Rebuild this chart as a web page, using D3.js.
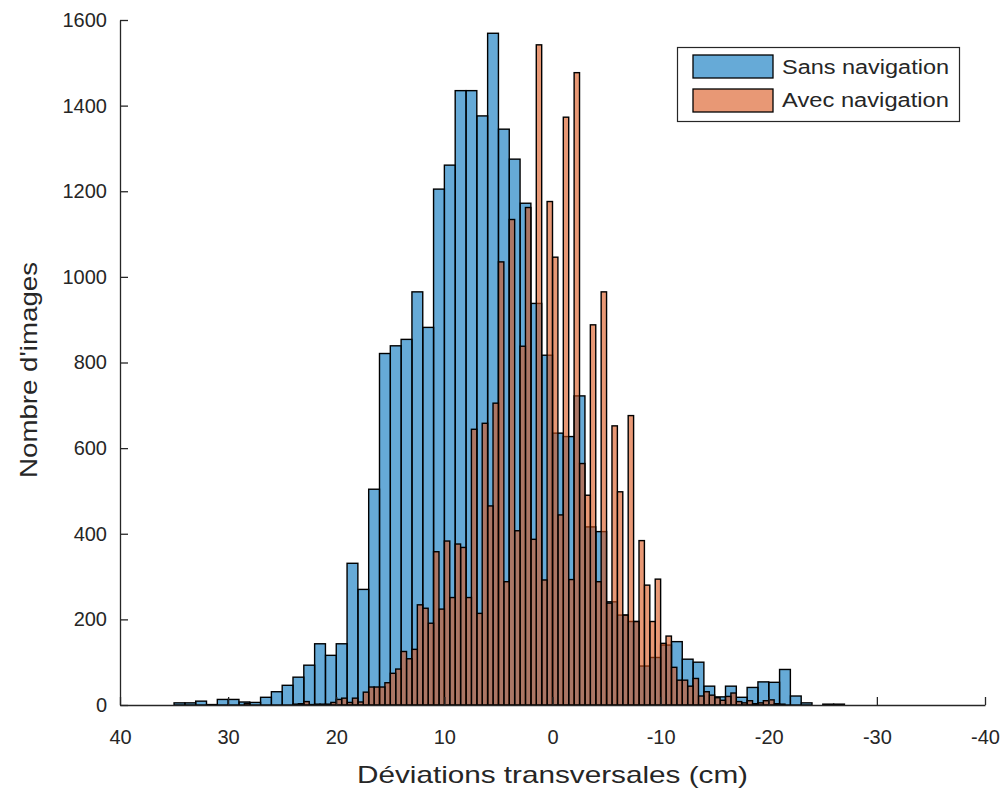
<!DOCTYPE html>
<html>
<head>
<meta charset="utf-8">
<script src="https://cdn.jsdelivr.net/npm/d3@7"></script>
<style>
  body { margin: 0; background: #fff; }
  text { font-family: "Liberation Sans", Arial, Helvetica, sans-serif; }
</style>
</head>
<body>
<div id="chart"></div>
<script>
// Data
// "Sans navigation": 1 cm bins, first bin starts at -27 cm
var sansStart = -27;
var sansWidth = 1;
var sansCounts = [2, 2, 0, 5, 21, 83, 53, 54, 41, 18, 44, 19, 44, 100, 107, 148, 140, 111, 91, 195,
    210, 241, 405, 416, 722, 627, 635, 817, 938, 1172, 1275, 1345, 1569, 1376, 1435, 1435, 1261, 1205,
    882, 965, 854, 839, 821, 504, 270, 331, 143, 116, 143, 93, 65, 46, 31, 18, 6, 7, 13, 13, 1, 9, 5, 5];

// "Avec navigation": 0.5 cm bins, first bin starts at -21.5 cm
var avecStart = -21.5;
var avecWidth = 0.5;
var avecCounts = [2, 3, 12, 10, 5, 3, 10, 5, 8, 28, 20, 11, 17, 23, 31, 21, 62, 44, 58, 58, 88, 161,
    144, 294, 195, 280, 384, 195, 676, 210, 498, 652, 238, 965, 288, 888, 490, 564, 1477, 293, 1373,
    444, 1046, 1176, 292, 1542, 387, 1162, 838, 407, 1134, 288, 1035, 705, 465, 658, 214, 644, 251,
    368, 376, 251, 383, 224, 358, 191, 226, 234, 130, 108, 125, 84, 74, 52, 42, 42, 42, 30, 7, 16, 6,
    16, 13, 6, 2, 2, 2, 1, 8, 3, 2, 0, 0, 0, 0, 0, 0, 0, 0, 4];

var xTicks = [40, 30, 20, 10, 0, -10, -20, -30, -40];
var yTicks = [0, 200, 400, 600, 800, 1000, 1200, 1400, 1600];
var seriesNames = ["Sans navigation", "Avec navigation"];

// layout (plot box in pixels)
var W = 1008, H = 793;
var plotL = 120, plotR = 985, plotT = 20, plotB = 705;
var axisColor = "#262626";
var blue = "#0072BD", orange = "#D95319";

var svg = d3.select("#chart").append("svg")
    .attr("width", W)
    .attr("height", H)
    .style("display", "block");

// x axis is reversed: 40 on the left, -40 on the right
var x = d3.scaleLinear().domain([40, -40]).range([plotL, plotR]);
var y = d3.scaleLinear().domain([0, 1600]).range([plotB, plotT]);

function toBins(start, width, counts) {
    return counts.map(function (c, i) {
        return { lo: start + i * width, hi: start + (i + 1) * width, n: c };
    }).filter(function (d) { return d.n > 0; });
}

function drawHist(bins, color) {
    svg.append("g").selectAll("rect")
        .data(bins)
        .enter().append("rect")
        .attr("x", function (d) { return x(d.hi); })
        .attr("width", function (d) { return x(d.lo) - x(d.hi); })
        .attr("y", function (d) { return y(d.n); })
        .attr("height", function (d) { return y(0) - y(d.n); })
        .attr("fill", color)
        .attr("fill-opacity", 0.6)
        .attr("stroke", "#000")
        .attr("stroke-width", 1.4);
}

drawHist(toBins(sansStart, sansWidth, sansCounts), blue);
drawHist(toBins(avecStart, avecWidth, avecCounts), orange);

// axes, ticks pointing inwards like MATLAB, plain hyphen for negatives
var fmt = function (d) { return String(d); };
var xAxis = svg.append("g")
    .attr("transform", "translate(0," + plotB + ")")
    .call(d3.axisBottom(x).tickValues(xTicks).tickFormat(fmt)
        .tickSizeInner(-8).tickSizeOuter(0).tickPadding(25));
var yAxis = svg.append("g")
    .attr("transform", "translate(" + plotL + ",0)")
    .call(d3.axisLeft(y).tickValues(yTicks).tickFormat(fmt)
        .tickSizeInner(-8).tickSizeOuter(0).tickPadding(13));

[xAxis, yAxis].forEach(function (g) {
    g.select(".domain").attr("stroke", axisColor).attr("stroke-width", 1.3);
    g.selectAll(".tick line").attr("stroke", axisColor).attr("stroke-width", 1.3);
    g.selectAll(".tick text")
        .attr("fill", axisColor)
        .style("font-size", "20px")
        .style("font-family", "'Liberation Sans', Arial, sans-serif");
});

// axis titles
svg.append("text")
    .attr("x", (plotL + plotR) / 2)
    .attr("y", 783)
    .attr("text-anchor", "middle")
    .attr("fill", axisColor)
    .attr("textLength", 391)
    .attr("lengthAdjust", "spacingAndGlyphs")
    .style("font-size", "24px")
    .text("Déviations transversales (cm)");

svg.append("text")
    .attr("transform", "translate(37,370) rotate(-90)")
    .attr("text-anchor", "middle")
    .attr("fill", axisColor)
    .attr("textLength", 216)
    .attr("lengthAdjust", "spacingAndGlyphs")
    .style("font-size", "24px")
    .text("Nombre d'images");

// legend
var legend = svg.append("g");
legend.append("rect")
    .attr("x", 677.5).attr("y", 47.5)
    .attr("width", 282).attr("height", 74)
    .attr("fill", "#fff")
    .attr("stroke", axisColor)
    .attr("stroke-width", 1.2);

[blue, orange].forEach(function (c, i) {
    legend.append("rect")
        .attr("x", 693).attr("y", 55 + i * 34)
        .attr("width", 80).attr("height", 23)
        .attr("fill", c)
        .attr("fill-opacity", 0.6)
        .attr("stroke", "#000")
        .attr("stroke-width", 1.3);
    legend.append("text")
        .attr("x", 782).attr("y", 74 + i * 33)
        .attr("fill", axisColor)
        .attr("textLength", 167)
        .attr("lengthAdjust", "spacingAndGlyphs")
        .style("font-size", "20px")
        .text(seriesNames[i]);
});
</script>
</body>
</html>
